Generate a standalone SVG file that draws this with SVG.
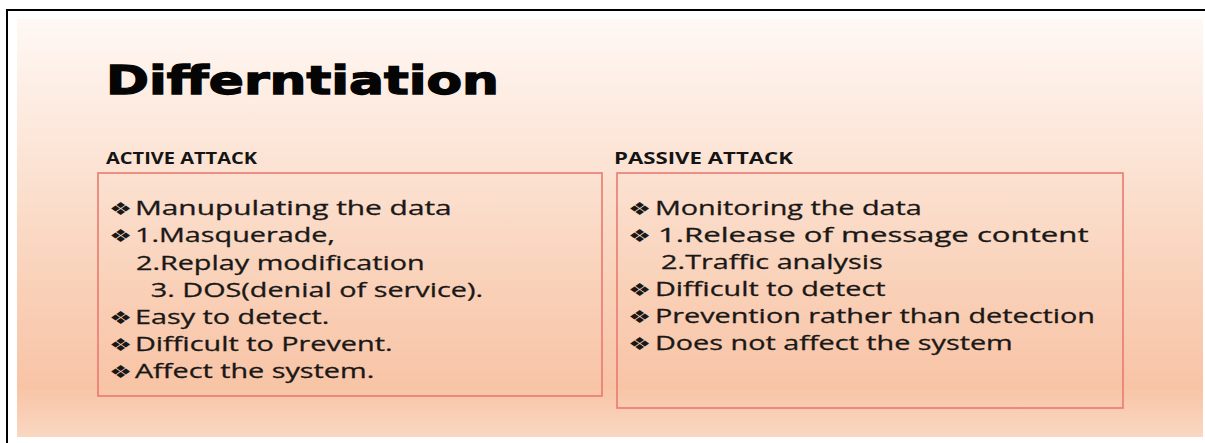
<svg xmlns="http://www.w3.org/2000/svg" width="1205" height="443" viewBox="0 0 1205 443">
  <defs>
    <linearGradient id="bg" x1="0" y1="0" x2="0" y2="1">
      <stop offset="0" stop-color="#fff8f4"/>
      <stop offset="0.3" stop-color="#fce6d8"/>
      <stop offset="0.65" stop-color="#f9d0b7"/>
      <stop offset="0.88" stop-color="#f8c4a6"/>
      <stop offset="1" stop-color="#f9d7c1"/>
    </linearGradient>
    <style>
      .title { font-family: "DejaVu Sans", sans-serif; font-weight: bold; font-size: 39px; fill: #050505; stroke: #050505; stroke-width: 1.3px; }
      .head { font-family: "Open Sans", "Liberation Sans", sans-serif; font-weight: bold; font-size: 16px; fill: #141414; }
      .body { font-family: "Open Sans", "Liberation Sans", sans-serif; font-size: 20px; fill: #1a1817; stroke: #1a1817; stroke-width: 0.3px; }
      .bul { font-family: "DejaVu Sans", sans-serif; font-size: 18px; fill: #1a1817; }
      .box { fill: none; stroke: #ea7a70; stroke-width: 1.6; }
    </style>
  </defs>
  <rect x="0" y="0" width="1205" height="443" fill="#ffffff"/>
  <rect x="17" y="19" width="1186" height="418" fill="url(#bg)"/>
  <path d="M7 443 V10 H1205" fill="none" stroke="#000" stroke-width="2"/>

  <g id="title">
    <text class="title" x="106" y="94" textLength="393" lengthAdjust="spacingAndGlyphs">Differntiation</text>
  </g>

  <g id="active">
    <text class="head" x="106" y="164" textLength="151" lengthAdjust="spacingAndGlyphs">ACTIVE ATTACK</text>
    <rect class="box" x="98" y="173" width="504" height="223"/>
    <g transform="translate(109,0) scale(1.44,1)">
      <text class="bul" x="0" y="215">❖</text>
      <text class="body" x="18" y="215" textLength="220" lengthAdjust="spacingAndGlyphs">Manupulating the data</text>
      <text class="bul" x="0" y="242">❖</text>
      <text class="body" x="18" y="242">1.Masquerade,</text>
      <text class="body" x="18.7" y="270">2.Replay modification</text>
      <text class="body" x="29" y="297">3. DOS(denial of service).</text>
      <text class="bul" x="0" y="324">❖</text>
      <text class="body" x="18" y="324">Easy to detect.</text>
      <text class="bul" x="0" y="351">❖</text>
      <text class="body" x="18" y="351">Difficult to Prevent.</text>
      <text class="bul" x="0" y="378">❖</text>
      <text class="body" x="18" y="378">Affect the system.</text>
    </g>
  </g>

  <g id="passive">
    <text class="head" x="614" y="164" textLength="179" lengthAdjust="spacingAndGlyphs">PASSIVE ATTACK</text>
    <rect class="box" x="617" y="173" width="506" height="235"/>
    <g transform="translate(628,0) scale(1.44,1)">
      <text class="bul" x="0" y="215">❖</text>
      <text class="body" x="18.7" y="215">Monitoring the data</text>
      <text class="bul" x="0" y="242">❖</text>
      <text class="body" x="20.8" y="242" textLength="299" lengthAdjust="spacingAndGlyphs">1.Release of message content</text>
      <text class="body" x="23" y="269">2.Traffic analysis</text>
      <text class="bul" x="0" y="296">❖</text>
      <text class="body" x="18.7" y="296">Difficult to detect</text>
      <text class="bul" x="0" y="323">❖</text>
      <text class="body" x="18.7" y="323">Prevention rather than detection</text>
      <text class="bul" x="0" y="350">❖</text>
      <text class="body" x="18.7" y="350">Does not affect the system</text>
    </g>
  </g>
</svg>
